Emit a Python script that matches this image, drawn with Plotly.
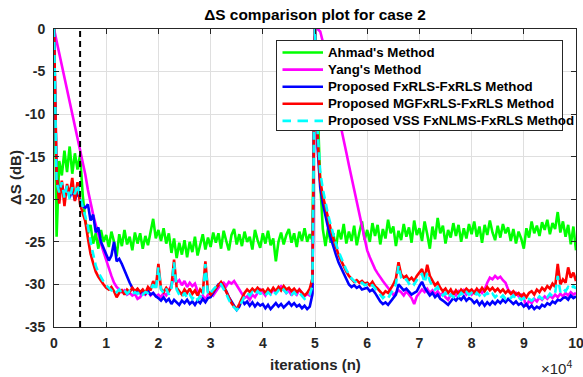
import plotly.graph_objects as go

# ---------------- data ----------------
iterations = list(range(0, 100001, 500))
switch_iter = 5000

x_tick_vals = [0, 10000, 20000, 30000, 40000, 50000, 60000, 70000, 80000, 90000, 100000]
x_tick_text = ["0", "1", "2", "3", "4", "5", "6", "7", "8", "9", "10"]
y_tick_vals = [-35, -30, -25, -20, -15, -10, -5, 0]
y_tick_text = ["-35", "-30", "-25", "-20", "-15", "-10", "-5", "0"]

ahmad = (
    [0, -24.4, -15.5, -17.2, -14.3, -16.8, -13.8, -17.0, -14.6, -16.5, -14.8, -19.5, -22.5, -24.0, -23.0, -25.2, -24.0, -25.8, -23.6, -25.0]
    + [-24.2, -25.6, -23.8, -25.0, -26.7, -24.1, -25.5, -23.6, -25.3, -24.4, -26.0, -23.9, -25.2, -24.0, -25.8, -24.3, -25.4, -23.8, -22.3, -24.6]
    + [-23.6, -24.9, -23.4, -25.2, -24.0, -26.3, -24.6, -26.9, -25.1, -26.5, -24.8, -26.8, -25.0, -26.2, -24.4, -26.6, -25.3, -24.1, -25.9, -24.5]
    + [-25.6, -23.9, -25.1, -24.0, -25.8, -23.7, -24.9, -26.0, -24.2, -23.5, -25.3, -24.1, -25.5, -23.8, -25.0, -24.4, -25.9, -23.6, -24.8, -25.7]
    + [-24.0, -25.2, -23.7, -25.4, -24.6, -27.3, -25.0, -23.9, -25.3, -24.2, -23.5, -25.1, -24.0, -25.6, -23.8, -24.9, -23.4, -25.0, -24.1, -24.8]
    + [0, -9.0, -18.0, -23.5, -25.5, -23.4, -25.1, -24.0, -25.8, -23.6, -24.7, -22.9, -25.2, -23.8, -24.9, -23.1, -25.4, -23.9, -22.6, -24.8]
    + [-23.6, -25.0, -22.8, -24.3, -23.0, -25.3, -23.5, -24.6, -22.4, -24.0, -23.2, -25.5, -23.7, -24.8, -22.9, -24.4, -23.3, -25.1, -22.5, -24.2]
    + [-23.4, -24.9, -22.6, -24.1, -25.8, -23.2, -24.7, -22.2, -24.0, -23.1, -25.2, -23.6, -24.5, -22.8, -24.3, -23.0, -25.0, -23.4, -24.6, -22.9]
    + [-24.1, -22.6, -24.4, -23.2, -25.1, -23.0, -24.2, -22.5, -23.9, -24.8, -23.1, -24.5, -22.9, -24.0, -23.3, -24.9, -23.5, -25.2, -23.8, -24.6]
    + [-25.8, -23.4, -24.5, -22.6, -24.0, -23.1, -24.3, -22.7, -23.6, -22.4, -24.1, -22.8, -23.5, -21.5, -23.9, -22.6, -24.4, -23.0, -25.3, -23.2, -26.0]
)

yang = (
    [0, -1.4, -2.8, -4.3, -5.7, -7.1, -8.5, -9.9, -11.4, -12.8, -14.2, -15.6, -17.1, -18.9, -20.5, -21.8, -23.0, -24.2, -25.2, -26.2]
    + [-27.2, -28.2, -29.0, -29.8, -30.3, -30.6, -30.9, -30.7, -31.2, -31.0, -31.3, -31.1, -31.7, -31.5, -31.0, -31.2, -30.8, -31.3, -31.0, -31.4]
    + [-31.2, -31.5, -31.0, -31.3, -30.8, -30.0, -29.3, -29.8, -29.5, -30.1, -29.6, -30.3, -29.8, -30.2, -29.9, -30.8, -31.6, -31.3, -31.8, -31.2]
    + [-31.0, -31.3, -30.8, -30.4, -30.0, -29.8, -30.2, -29.7, -29.9, -29.6, -30.1, -30.6, -31.2, -31.6, -31.4, -31.8, -31.2, -31.5, -31.0, -30.6]
    + [-30.9, -31.3, -30.7, -31.1, -30.6, -30.9, -30.4, -30.2, -30.6, -31.0, -30.7, -31.3, -30.8, -31.2, -30.6, -31.0, -31.4, -31.1, -31.3, -31.0]
    + [0, 0, -0.3, -1.5, -2.9, -4.4, -5.8, -7.3, -8.7, -10.2, -11.6, -13.1, -14.5, -16.0, -17.4, -18.9, -20.3, -21.8, -23.2, -24.5]
    + [-26.0, -26.8, -27.6, -28.2, -28.7, -29.2, -29.6, -30.0, -30.4, -30.8, -31.2, -31.0, -30.7, -30.9, -31.3, -30.8, -31.2, -31.6, -32.3, -31.4]
    + [-31.0, -30.6, -30.9, -30.5, -31.0, -30.7, -31.2, -30.8, -31.3, -31.0, -31.5, -31.8, -31.2, -30.9, -31.3, -30.8, -31.1, -30.7, -31.2, -30.9]
    + [-31.2, -30.8, -31.1, -30.7, -31.0, -30.6, -29.8, -29.2, -29.4, -29.0, -29.3, -29.1, -29.5, -29.8, -30.6, -31.0, -31.3, -31.0, -31.4, -31.2]
    + [-31.6, -32.6, -31.9, -32.2, -31.7, -32.0, -31.5, -31.8, -31.4, -31.7, -31.3, -31.6, -31.2, -31.5, -31.1, -31.4, -31.0, -31.3, -30.9, -31.2, -31.0]
)

fxrls = (
    [0, -17.5, -19.0, -18.2, -19.6, -18.5, -19.8, -18.8, -20.1, -19.2, -20.0, -20.8, -21.0, -20.6, -22.5, -21.8, -23.9, -23.3, -25.0, -25.8]
    + [-26.5, -27.2, -26.6, -25.0, -27.3, -27.0, -27.6, -28.4, -29.2, -29.8, -30.4, -30.9, -30.6, -31.0, -30.7, -31.1, -30.8, -31.2, -31.0, -31.4]
    + [-31.6, -31.9, -31.5, -32.0, -31.7, -32.3, -31.8, -32.1, -32.4, -31.9, -32.2, -31.8, -32.3, -32.0, -32.4, -31.9, -32.2, -31.7, -32.1, -31.6]
    + [-31.5, -31.0, -30.5, -30.0, -29.9, -30.3, -30.8, -31.5, -32.0, -32.4, -33.0, -32.6, -31.8, -32.3, -32.0, -32.5, -32.1, -32.6, -32.2, -32.5]
    + [-32.3, -32.8, -32.4, -32.9, -32.5, -32.2, -32.6, -32.3, -32.7, -32.4, -32.1, -32.5, -32.2, -32.6, -32.4, -32.8, -32.5, -32.9, -32.6, -31.2]
    + [0, -14.0, -18.6, -20.5, -22.0, -23.3, -24.5, -25.6, -26.5, -27.4, -28.1, -28.8, -29.5, -30.0, -30.3, -30.1, -30.4, -30.2, -30.6, -30.5]
    + [-30.4, -30.8, -30.6, -31.0, -31.5, -32.0, -32.3, -32.1, -32.4, -32.0, -31.6, -31.2, -30.0, -30.4, -30.7, -30.5, -30.9, -31.2, -31.0, -30.8]
    + [-30.2, -29.7, -30.4, -30.9, -31.3, -31.0, -31.5, -31.2, -31.7, -31.9, -32.1, -32.4, -32.0, -31.6, -31.9, -31.5, -31.8, -31.4, -31.9, -31.6]
    + [-31.8, -32.2, -31.9, -32.4, -32.0, -32.5, -32.1, -32.4, -32.0, -32.3, -31.9, -32.2, -31.8, -32.1, -31.7, -32.0, -32.3, -32.0, -32.4, -32.2]
    + [-32.6, -32.3, -32.8, -32.5, -32.9, -32.6, -32.8, -32.4, -32.6, -32.2, -32.4, -32.0, -32.2, -31.8, -31.9, -31.6, -31.5, -31.8, -31.3, -31.6, -31.4]
)

mgfxrls = (
    [0, -17.0, -20.5, -17.8, -20.8, -18.2, -19.5, -17.5, -20.2, -18.0, -20.6, -21.5, -22.6, -24.6, -26.4, -27.5, -28.5, -29.1, -29.6, -30.0]
    + [-30.4, -30.6, -30.3, -30.8, -31.5, -31.0, -30.7, -31.2, -30.6, -30.9, -30.4, -30.8, -30.5, -30.9, -30.6, -31.0, -30.3, -30.7, -29.6, -30.4]
    + [-27.6, -30.5, -30.9, -30.4, -30.8, -30.3, -27.1, -30.4, -30.8, -31.2, -30.6, -31.0, -30.5, -31.1, -30.7, -31.3, -30.6, -31.0, -27.3, -30.8]
    + [-31.2, -30.8, -30.4, -30.0, -29.7, -30.2, -30.9, -31.6, -32.2, -32.6, -32.9, -32.3, -31.6, -31.0, -30.6, -30.9, -30.5, -30.8, -30.4, -30.7]
    + [-30.6, -31.0, -30.5, -30.9, -30.4, -30.8, -30.3, -30.7, -30.2, -30.6, -30.4, -30.8, -30.5, -30.9, -30.6, -31.0, -31.3, -31.0, -30.5, -29.3]
    + [0, -13.0, -17.8, -19.6, -21.0, -22.3, -23.5, -24.6, -25.6, -26.5, -27.2, -27.9, -28.5, -29.0, -29.4, -29.7, -29.5, -29.8, -29.6, -29.9]
    + [-29.8, -30.1, -29.7, -30.2, -30.5, -30.9, -31.2, -30.8, -31.0, -30.5, -30.0, -29.3, -27.4, -28.8, -29.2, -29.0, -29.5, -29.2, -29.6, -29.0]
    + [-28.6, -28.2, -29.3, -27.7, -29.0, -29.6, -30.1, -29.8, -30.4, -30.8, -30.5, -31.0, -30.6, -31.2, -30.7, -31.1, -30.6, -30.9, -30.5, -30.8]
    + [-30.6, -31.0, -30.5, -30.9, -30.4, -30.8, -30.3, -30.7, -30.4, -30.8, -30.5, -30.9, -30.6, -31.0, -30.7, -31.1, -30.8, -31.2, -31.0, -31.4]
    + [-31.1, -31.5, -31.0, -30.8, -31.2, -30.6, -30.9, -30.4, -30.7, -30.2, -30.5, -29.9, -30.3, -27.6, -30.0, -29.4, -29.8, -28.0, -29.2, -28.6, -29.6]
)

vss = (
    [0, -18.0, -19.2, -18.0, -19.8, -18.4, -20.0, -18.6, -19.4, -18.3, -19.7, -20.8, -21.8, -23.2, -25.0, -26.6, -27.8, -28.6, -29.2, -29.7]
    + [-30.1, -30.4, -30.7, -30.5, -30.9, -30.6, -31.0, -30.7, -31.1, -30.8, -31.2, -30.9, -31.1, -30.8, -31.2, -30.9, -31.0, -30.6, -30.0, -30.7]
    + [-28.0, -30.6, -31.0, -30.5, -31.2, -30.4, -27.4, -30.6, -31.2, -31.5, -31.0, -31.6, -31.2, -31.7, -31.3, -31.8, -31.4, -31.6, -27.6, -31.2]
    + [-31.0, -30.6, -30.2, -29.9, -30.0, -30.5, -31.1, -31.8, -32.4, -32.7, -33.0, -32.6, -32.0, -31.4, -31.0, -31.3, -30.9, -31.2, -30.8, -31.1]
    + [-31.0, -31.3, -30.9, -31.2, -30.8, -31.1, -30.7, -31.0, -30.6, -31.0, -30.8, -31.2, -30.9, -31.3, -31.0, -31.4, -31.7, -31.4, -31.2, -30.2]
    + [0, -12.0, -16.8, -18.8, -20.4, -21.8, -23.0, -24.2, -25.2, -26.1, -26.9, -27.6, -28.3, -28.8, -29.3, -29.6, -29.8, -30.0, -29.8, -30.1]
    + [-30.0, -30.3, -30.1, -30.5, -30.9, -31.3, -31.6, -31.3, -31.6, -31.1, -30.6, -30.0, -27.8, -29.2, -29.6, -29.4, -29.9, -29.6, -30.0, -29.5]
    + [-29.0, -28.8, -29.8, -28.6, -29.6, -30.2, -30.6, -30.3, -30.9, -31.3, -31.0, -31.6, -31.2, -31.5, -31.1, -31.4, -31.0, -31.3, -30.9, -31.2]
    + [-31.0, -31.4, -31.0, -31.3, -30.9, -31.3, -31.0, -31.4, -31.1, -31.5, -31.2, -31.6, -31.3, -31.7, -31.4, -31.6, -31.3, -31.7, -31.5, -31.8]
    + [-31.6, -32.0, -31.7, -31.9, -31.6, -31.8, -31.4, -31.7, -31.3, -31.5, -31.1, -31.4, -31.0, -29.0, -30.9, -30.5, -30.8, -30.3, -30.6, -30.2, -30.5]
)

series_names = ["Ahmad's Method", "Yang's Method", "Proposed FxRLS-FxRLS Method",
                "Proposed MGFxRLS-FxRLS Method", "Proposed VSS FxNLMS-FxRLS Method"]
series_values = [ahmad, yang, fxrls, mgfxrls, vss]
series_colors = ["#00ff00", "#ff00ff", "#0000ff", "#ff0000", "#00ffff"]
series_dash = ["solid", "solid", "solid", "solid", "8px,5px"]

# ---------------- figure ----------------
FONT = "Liberation Sans, Arial, Helvetica, sans-serif"
W, H = 583, 377
ML, MR, MT, MB = 54, 7, 29, 50
PW, PH = W - ML - MR, H - MT - MB


def px_x(px):
    return (px - ML) / PW


def px_y(py):
    return 1 - (py - MT) / PH


fig = go.Figure()
for name, vals, col, dsh in zip(series_names, series_values, series_colors, series_dash):
    assert len(vals) == len(iterations)
    fig.add_trace(go.Scatter(x=iterations, y=vals, mode="lines", name=name, showlegend=False,
                             line=dict(color=col, width=2.6, dash=dsh)))

fig.add_shape(type="line", xref="x", yref="y domain", x0=switch_iter, x1=switch_iter,
              y0=0, y1=1, line=dict(color="black", width=2, dash="6px,4px"), layer="above")

# ---- legend (annotations live in the top layer, so the box hides the curves) ----
LEG_L, LEG_R, LEG_T, LEG_B = 276, 563, 40, 131
LEG_ROW0, LEG_DY = 52.5, 17.1
LINE_X0, LINE_X1, TEXT_X = 282, 323, 326
CYAN_DASHES = [(282, 291), (297, 308), (314, 323)]

legend_items = [dict(text="", x=px_x((LEG_L + LEG_R) / 2), y=px_y((LEG_T + LEG_B) / 2),
                     xref="paper", yref="paper", xanchor="center", yanchor="middle",
                     width=LEG_R - LEG_L - 2, height=LEG_B - LEG_T - 2, borderpad=0,
                     bgcolor="white", bordercolor="#262626", borderwidth=1, showarrow=False)]
for i, (name, col, dsh) in enumerate(zip(series_names, series_colors, series_dash)):
    ypx = LEG_ROW0 + i * LEG_DY
    segs = CYAN_DASHES if dsh != "solid" else [(LINE_X0, LINE_X1)]
    for a, b in segs:
        legend_items.append(dict(text="", x=px_x(b), y=px_y(ypx), xref="paper", yref="paper",
                                 showarrow=True, arrowhead=0, arrowwidth=2.6, arrowcolor=col,
                                 ax=-(b - a), ay=0, standoff=0, startstandoff=0, borderpad=0))
    legend_items.append(dict(text=name, x=px_x(TEXT_X), y=px_y(ypx), xref="paper", yref="paper",
                             xanchor="left", yanchor="middle", showarrow=False,
                             font=dict(family=FONT, size=13.3, color="black", weight="bold")))

axis_common = dict(showline=True, linecolor="#262626", linewidth=1, mirror="ticks",
                   ticks="inside", ticklen=5, tickwidth=1, tickcolor="#262626",
                   showgrid=True, gridcolor="#dfdfdf", gridwidth=1, zeroline=False,
                   ticklabeloverflow="allow", automargin=False,
                   tickfont=dict(family=FONT, size=14, color="#262626", weight="bold"))
fig.update_xaxes(range=[0, 100000], tickmode="array", tickvals=x_tick_vals, ticktext=x_tick_text,
                 ticklabelstandoff=3, **axis_common)
fig.update_yaxes(range=[-35, 0], tickmode="array", tickvals=y_tick_vals, ticktext=y_tick_text,
                 ticklabelstandoff=5, **axis_common)

fig.update_layout(
    width=W, height=H, margin=dict(l=ML, r=MR, t=MT, b=MB, pad=0, autoexpand=False),
    paper_bgcolor="white", plot_bgcolor="white",
    title=dict(text="ΔS comparison plot for case 2", x=0.5, xref="paper", xanchor="center",
               y=1 - 15 / H, yref="container", yanchor="middle",
               font=dict(family=FONT, size=15.4, color="black", weight="bold")),
    showlegend=False,
    annotations=legend_items + [
        dict(text="iterations (n)", x=0.5, y=0, xref="paper", yref="paper", xanchor="center",
             yanchor="middle", yshift=-37, showarrow=False,
             font=dict(family=FONT, size=15, color="#262626", weight="bold")),
        dict(text="ΔS (dB)", x=0, y=0.5, xref="paper", yref="paper", xanchor="center",
             yanchor="middle", xshift=-39, textangle=-90, showarrow=False,
             font=dict(family=FONT, size=15, color="#262626", weight="bold")),
        dict(text="×10<sup>4</sup>", x=px_x(574), y=0, xref="paper", yref="paper", xanchor="right",
             yanchor="middle", yshift=-40, showarrow=False,
             font=dict(family=FONT, size=15, color="#262626")),
    ],
)

fig.write_html("out.html")
